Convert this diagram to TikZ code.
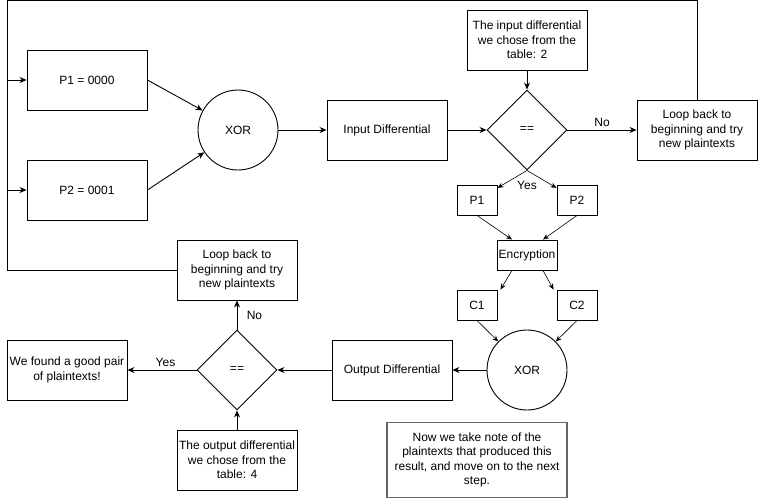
\documentclass[tikz,border=0pt]{standalone}
\usepackage{fontspec}
\setmainfont{Liberation Sans}
\usetikzlibrary{shapes.geometric,positioning,arrows.meta}

\begin{document}
\begin{tikzpicture}[
    x=1pt, y=-1pt,
    >={Stealth[length=7pt,width=6pt]},
    line width=0.9pt,
    every node/.style={font=\fontsize{12}{14.5}\selectfont, align=center},
    every edge/.style={draw},
    box/.style={draw, minimum width=120pt, minimum height=60pt, inner sep=2pt},
    smallbox/.style={draw, minimum width=40pt, minimum height=30pt, inner sep=1pt},
    gate/.style={draw, circle, minimum size=80pt, inner sep=0pt},
    test/.style={draw, diamond, minimum size=80pt, inner sep=0pt},
    thin arrow/.style={->, line width=0.6pt, >={Stealth[length=6pt,width=5pt]}},
    notebox/.style={draw=black!60, line width=1.4pt, minimum width=180pt, minimum height=75pt}
]
\useasboundingbox (0,0) rectangle (758,499);

% ---------------- Nodes ----------------
\node[box] (pa) at (87,80) {P1 = 0000};
\node[box] (pb) at (87,190) {P2 = 0001};
\node[gate] (xa) at (238,130) {XOR};
\node[box] (indiff) at (387,130) {Input Differential};
\node[box] (inref) at (527,40) {The input differential\\we chose from the\\table: 2};
\node[test] (da) at (527,130) {==};
\node[box] (loopa) at (697,130) {Loop back to\\beginning and try\\new plaintexts};

\node[smallbox] (ps) at (477,200) {P1};
\node[smallbox] (qs) at (577,200) {P2};
\node[draw, minimum width=60pt, minimum height=30pt, inner sep=1pt] (enc) at (527,255) {Encryption};
\node[smallbox] (ca) at (477,305) {C1};
\node[smallbox] (cb) at (577,305) {C2};
\node[gate] (xb) at (527,370) {XOR};

\node[box] (outdiff) at (392,370) {Output Differential};
\node[test] (db) at (237,370) {==};
\node[box] (found) at (67,370) {We found a good pair\\of plaintexts!};
\node[box] (loopb) at (237,270) {Loop back to\\beginning and try\\new plaintexts};
\node[box] (outref) at (237,460) {The output differential\\we chose from the\\table: 4};
\node[notebox] (note) at (477,460) {Now we take note of the\\plaintexts that produced this\\result, and move on to the next\\step.};

\node (yesa) at (527,185) {Yes};

% ---------------- Loop back line ----------------
\coordinate (tr) at (697,0.5);
\coordinate (tl) at (7,0.5);
\coordinate (bl) at (7,270);
\coordinate (ina) at (7,80);
\coordinate (inb) at (7,190);

\draw (loopa.north) -- (tr) -- (tl) -- (bl) -- (loopb.west);
\draw[->] (ina) -- (pa.west);
\draw[->] (inb) -- (pb.west);

% ---------------- Transitions ----------------
\path[->] (pa.east) edge (xa)
          (pb.east) edge (xa)
          (xa) edge (indiff)
          (indiff) edge (da)
          (inref) edge (da)
          (da) edge node[above]{No} (loopa);

\path[thin arrow] (da.south) edge (ps)
          (da.south) edge (qs)
          (ps.south) edge ([xshift=-15pt]enc.north)
          (qs.south) edge ([xshift=16pt]enc.north)
          ([xshift=-15pt]enc.south) edge ([xshift=3pt]ca.north east)
          ([xshift=16pt]enc.south) edge ([xshift=-3pt]cb.north west)
          (ca.south) edge (xb)
          (cb.south) edge (xb);

\path[->] (xb) edge (outdiff)
          (outdiff) edge (db)
          (db) edge node[above, pos=0.45]{Yes} (found)
          (db) edge node[right, xshift=6pt]{No} (loopb)
          (outref) edge (db);

\end{tikzpicture}
\end{document}
